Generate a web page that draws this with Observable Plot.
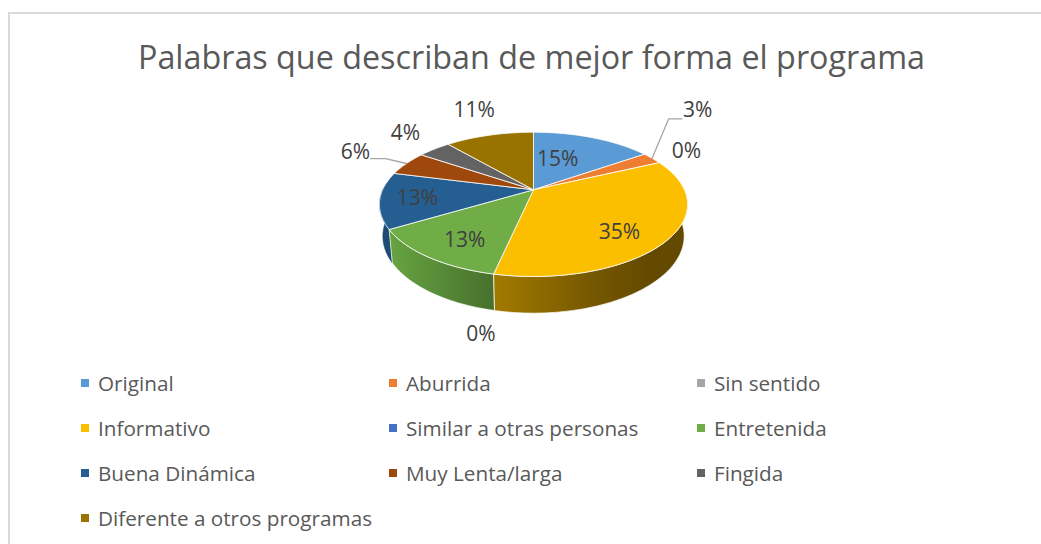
<!DOCTYPE html>
<html>
<head>
<meta charset="utf-8">
<script src="https://cdn.jsdelivr.net/npm/d3@7"></script>
<script src="https://cdn.jsdelivr.net/npm/@observablehq/plot@0.6"></script>
<style>
  html, body { margin: 0; padding: 0; background: #fff; width: 1041px; height: 544px; overflow: hidden; }
  #frame { position: absolute; left: 8px; top: 12px; width: 1200px; height: 700px; border: 2px solid #d9d9d9; box-sizing: border-box; }
  #title { position: absolute; left: 11px; top: 34px; width: 1041px; text-align: center; font: 32.3px "Open Sans", sans-serif; color: #595959; white-space: nowrap; }
  #chart { position: absolute; left: 0; top: 90px; }
  #legend { position: absolute; left: 81px; top: 360px; display: grid; grid-template-columns: repeat(3, 308px); grid-auto-rows: 45px; font: 20.7px "Open Sans", sans-serif; color: #595959; }
  .item { display: flex; align-items: center; white-space: nowrap; height: 45px; }
  .swatch { width: 8px; height: 8px; margin-right: 9px; flex: none; }
</style>
</head>
<body>
<div id="frame"></div>
<div id="title"></div>
<div id="chart"></div>
<div id="legend"></div>
<script>
const titleText = "Palabras que describan de mejor forma el programa";
const categories = ["Original", "Aburrida", "Sin sentido", "Informativo", "Similar a otras personas", "Entretenida", "Buena Dinámica", "Muy Lenta/larga", "Fingida", "Diferente a otros programas"];
const shares = [15.3, 2.7, 0, 35.4, 0, 13, 12.6, 5.5, 4.2, 11.3];
const colors = ["#5b9bd5", "#ed7d31", "#a5a5a5", "#fbbf00", "#4472c4", "#70ad47", "#255e91", "#9e480e", "#636363", "#997300"];

// Label placement, polar in the pie's own plane: distance from centre, and turn from the slice's mid-angle
const labelRadius = [0.523, 2.054, 1.30, 0.747, 1.491, 0.752, 0.76, 1.456, 1.407, 1.575];
const labelTurn = [-7.9, -16.4, -3.4, 8.8, -2.8, -3.7, -1, 0.3, 2, 1.4];
// Leader lines: category, then [radius, turn] for each vertex
const leaders = [
  {name: "Aburrida", path: [[1, 0], [1.717, -18.8], [1.79, -16.1]]},
  {name: "Muy Lenta/larga", path: [[1, 0], [1.188, 0.4], [1.287, -1.6]]}
];

// Perspective model of the tilted disc
const tilt = 0.2017, bottomScale = 0.978, depth = 0.445;
const deg = Math.PI / 180;
function project(rho, angle, lower = false) {
  const X = rho * Math.sin(angle * deg), Y = -rho * Math.cos(angle * deg);
  const den = 1 - tilt * Y, k = lower ? bottomScale : 1;
  return {x: k * X / den, y: k * Y / den + (lower ? depth / den : 0)};
}

const total = d3.sum(shares);
let cum = 0;
const slices = categories.map((name, i) => {
  const start = cum / total * 360;
  cum += shares[i];
  const end = cum / total * 360;
  return {name, share: shares[i], start, end, mid: (start + end) / 2, i};
});
const byName = new Map(slices.map(s => [s.name, s]));

function arc(a0, a1) {
  const n = Math.max(2, Math.ceil(Math.abs(a1 - a0)));
  return d3.range(n + 1).map(j => a0 + (a1 - a0) * j / n);
}
const tops = slices.filter(s => s.share > 0).flatMap(s => {
  const ring = [{x: 0, y: 0}, ...arc(s.start, s.end).map(a => project(1, a)), {x: 0, y: 0}];
  return ring.map(p => ({...p, name: s.name}));
});
function side(name, from, to) {
  const s = byName.get(name);
  const a0 = Math.max(s.start, from), a1 = Math.min(s.end, to);
  const up = arc(a0, a1).map(a => project(1, a));
  const low = arc(a1, a0).map(a => project(1, a, true));
  return [...up, ...low, up[0]];
}
const sideYellow = side("Informativo", 88, 272);
const sideGreen = side("Entretenida", 88, 272);
const sideBlue = side("Buena Dinámica", 88, 272);

const labels = slices.map((s, i) => ({
  ...project(labelRadius[i], s.mid + labelTurn[i]),
  text: Math.round(s.share) + "%"
}));
const leaderPts = leaders.flatMap(l => l.path.map(([r, t]) => ({
  ...project(r, byName.get(l.name).mid + t), name: l.name
})));

function gradient(id, stops) {
  return () => {
    const defs = d3.create("svg:defs");
    const g = defs.append("linearGradient").attr("id", id).attr("x1", 0).attr("x2", 1).attr("y1", 0).attr("y2", 0);
    stops.forEach(([o, c]) => g.append("stop").attr("offset", o).attr("stop-color", c));
    return defs.node();
  };
}

const chart = Plot.plot({
  width: 1041,
  height: 270,
  margin: 0,
  style: {background: "transparent", overflow: "visible"},
  x: {domain: [-1, 1], range: [382.1, 683.9], axis: null},
  y: {domain: [-1, 1], range: [30.1, 168.5], axis: null},
  color: {domain: categories, range: colors},
  marks: [
    gradient("gY", [[0, "#a37a00"], [0.5, "#765800"], [0.8, "#634a00"], [1, "#634a00"]]),
    gradient("gG", [[0, "#67a441"], [1, "#47702d"]]),
    Plot.line(sideBlue, {x: "x", y: "y", fill: "#1d4b73", stroke: "#1d4b73", strokeWidth: 0.5}),
    Plot.line(sideGreen, {x: "x", y: "y", fill: "url(#gG)", stroke: "#ffffff", strokeWidth: 1, strokeOpacity: 0.7}),
    Plot.line(sideYellow, {x: "x", y: "y", fill: "url(#gY)", stroke: "#ffffff", strokeWidth: 1, strokeOpacity: 0.7}),
    Plot.line(tops, {x: "x", y: "y", z: "name", fill: "name", stroke: "#ffffff", strokeWidth: 1, strokeOpacity: 0.8}),
    Plot.line(leaderPts, {x: "x", y: "y", z: "name", stroke: "#a6a6a6", strokeWidth: 1.3}),
    Plot.text(labels, {x: "x", y: "y", text: "text", fill: "#404040", fontSize: 21, fontFamily: "Open Sans, sans-serif"})
  ]
});
document.getElementById("chart").append(chart);
document.getElementById("title").textContent = titleText;
const legend = document.getElementById("legend");
categories.forEach((c, i) => {
  const it = document.createElement("div");
  it.className = "item";
  const sw = document.createElement("span");
  sw.className = "swatch";
  sw.style.background = colors[i];
  const tx = document.createElement("span");
  tx.textContent = c;
  it.append(sw, tx);
  legend.append(it);
});
</script>
</body>
</html>
